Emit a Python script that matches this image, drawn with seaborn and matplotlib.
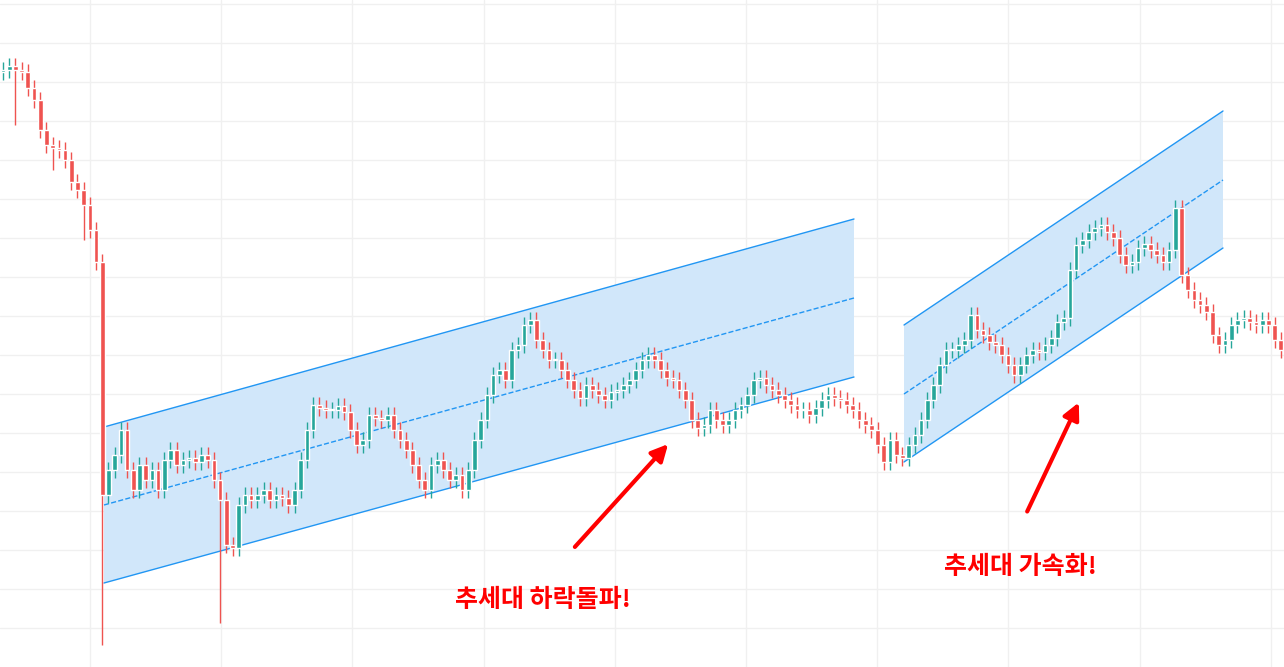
import numpy as np
import pandas as pd
import seaborn as sns
import matplotlib.pyplot as plt

# closes, in screen-y units (top = 0)
close_y = [70, 66, 70, 72, 88, 100, 130, 145, 148, 150, 160, 182, 190, 205, 230, 262, 495,
           470, 455, 430, 470, 490, 465, 480, 470, 490, 460, 450, 465,
           460, 458, 462, 455, 460, 480, 500, 545, 548, 505, 495, 500,
           495, 490, 500, 495, 498, 505, 490, 460, 430, 405, 408, 410,
           410, 406, 412, 430, 445, 440, 415, 418, 420, 415, 430, 440, 450,
           465, 480, 490, 465, 460, 470, 480, 475, 490, 470, 440, 420, 395,
           375, 370, 380, 350, 345, 325, 320, 340, 350, 360, 360, 370, 380,
           390, 398, 385, 390, 395, 400, 392, 390, 385, 380, 370, 360, 355,
           360, 370, 378, 380, 390, 400, 420, 428, 425, 410, 420, 425,
           420, 410, 405, 395, 380, 378, 385, 390, 395, 400, 405, 410,
           410, 415, 408, 400, 395, 398, 400, 405, 410, 420, 425, 430,
           445, 462, 440, 455, 458, 445, 435, 420, 400, 385, 365, 350,
           350, 345, 340, 315, 330, 335, 342, 345, 355, 365, 375,
           365, 355, 350, 352, 345, 338, 322, 318, 270, 245,
           240, 232, 228, 225, 232, 238, 255, 265, 262, 248, 244, 250,
           255, 262, 250, 208, 275, 290, 300, 305, 312, 335, 345, 340,
           325, 320, 318, 322, 325, 320, 325, 340, 350]
spike_y = {2: 125, 16: 645, 35: 623, 8: 170, 13: 240}

# channels (start, end) in screen coords
chan1_top = [(104, 427), (854, 219)]
chan1_bot = [(104, 583), (854, 377)]
chan1_mid = [(104, 505), (854, 298)]
chan2_top = [(904, 325), (1223, 111)]
chan2_bot = [(904, 462), (1223, 248)]
chan2_mid = [(904, 394), (1223, 180)]

H = 667
close = np.array([H - v for v in close_y], dtype=float)
opn = np.concatenate([[close[0] - 2], close[:-1]])
n = len(close)
step = 1284 / n
xs = 3 + np.arange(n) * step
hi = np.maximum(opn, close) + 8
lo = np.minimum(opn, close) - 8
for k, v in spike_y.items():
    lo[k] = H - v

sns.set_style('white')
plt.rcParams['font.family'] = ['Noto Sans CJK KR', 'DejaVu Sans']
fig = plt.figure(figsize=(12.84, 6.67), dpi=100)
ax = fig.add_axes([0, 0, 1, 1])
ax.set_xlim(0, 1284)
ax.set_ylim(0, H)

for gx in np.arange(90, 1284, 131.2):
    ax.axvline(gx, color='#f0f0f0', lw=1, zorder=0)
for gy in np.arange(4, 667, 39):
    ax.axhline(H - gy, color='#f0f0f0', lw=1, zorder=0)

line_c = '#2196f3'
for top, bot, mid in [(chan1_top, chan1_bot, chan1_mid), (chan2_top, chan2_bot, chan2_mid)]:
    (x0, t0), (x1, t1) = top
    (_, b0), (_, b1) = bot
    ax.fill([x0, x1, x1, x0], [H - t0, H - t1, H - b1, H - b0], color='#d1e7fa', lw=0, zorder=1)
    for seg, ls in [(top, '-'), (bot, '-'), (mid, '--')]:
        d = pd.DataFrame({'x': [seg[0][0], seg[1][0]], 'y': [H - seg[0][1], H - seg[1][1]]})
        sns.lineplot(data=d, x='x', y='y', ax=ax, color=line_c, lw=1, linestyle=ls, zorder=2)

up = close >= opn
cols = np.where(up, '#26a69a', '#ef5350')
ax.vlines(xs, lo, hi, colors=cols, lw=1, zorder=3)
body = np.maximum(np.abs(close - opn), 1)
ax.bar(xs, body, bottom=np.minimum(opn, close), width=step * 0.75, color=cols, zorder=4)

ax.annotate('', xy=(670, H - 442), xytext=(573, H - 549),
            arrowprops=dict(arrowstyle='-|>,head_width=0.5,head_length=1', color='#ff0000', lw=3))
ax.annotate('', xy=(1080, H - 400), xytext=(1026, H - 514),
            arrowprops=dict(arrowstyle='-|>,head_width=0.5,head_length=1', color='#ff0000', lw=3))
ax.text(543, H - 600, '추세대 하락돌파!', color='#ff0000', fontsize=18, fontweight='bold',
        ha='center', va='center')
ax.text(1020, H - 567, '추세대 가속화!', color='#ff0000', fontsize=18, fontweight='bold',
        ha='center', va='center')

ax.set_xlabel('')
ax.set_ylabel('')
ax.set_xticks([])
ax.set_yticks([])
for s in ax.spines.values():
    s.set_visible(False)
fig.savefig('out.png', dpi=100)
